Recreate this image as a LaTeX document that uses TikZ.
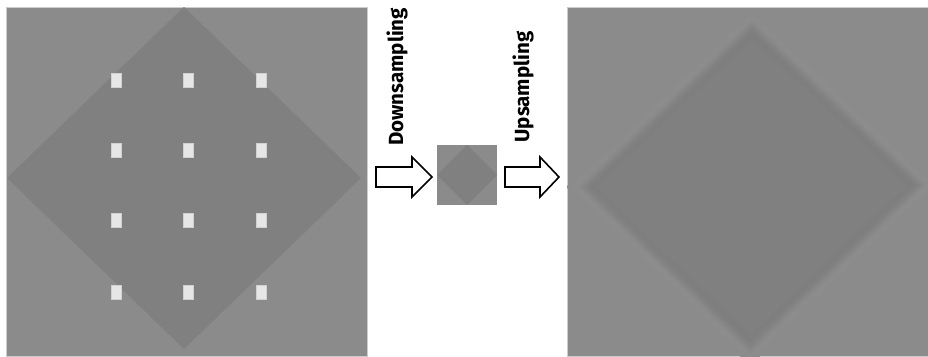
\documentclass[tikz,border=0pt]{standalone}
\usepackage{fontspec}
\setmainfont{Fira Sans}
\begin{document}
\begin{tikzpicture}[x=1pt,y=-1pt,
  bgA/.style={fill=bgcol},
  dia/.style={fill=diacol},
  dot/.style={fill=dotcol,draw=dotcol!80!gray,line width=0.4pt},
  blockarrow/.style={draw=black,fill=white,line width=1.6pt,line join=miter},
  lbl/.style={rotate=90,font=\fontsize{20.5}{24}\selectfont\bfseries,inner sep=0pt}]
\definecolor{bgcol}{HTML}{8B8B8B}
\definecolor{diacol}{HTML}{808080}
\definecolor{dotcol}{HTML}{E6E6E6}
\useasboundingbox (0,0) rectangle (928,356);
\fill[white] (0,0) rectangle (928,356);
% left image
\draw[bgA,draw=gray!40,line width=0.6pt] (6,7) rectangle (367,356);
\fill[dia] (184,7) -- (361,178) -- (184,349) -- (7,178) -- cycle;
\foreach \x in {116,188,261}{
  \foreach \y in {80,150,220,292}{
    \draw[dot] (\x-5,\y-7) rectangle (\x+5,\y+7);
  }
}
% small image
\fill[bgA] (437,145) rectangle (497,205);
\fill[dia] (467,145) -- (497,175) -- (467,205) -- (437,175) -- cycle;
% right image (blurred)
\draw[bgA,draw=gray!40,line width=0.6pt] (567,7) rectangle (928,356);
\begin{scope}
\clip (567,7) rectangle (928,356);
\foreach \k/\c in {14/8B8B8B,10/8C8C8C,6/8D8D8D,3/8B8B8B,0/888888,-3/848484,-6/818181,-10/7E7E7E,-14/7F7F7F,-18/808080}{
  \definecolor{tmp}{HTML}{\c}
  \fill[tmp] (752,22-\k) -- (924+\k,185) -- (750,352+\k) -- (580-\k,187) -- cycle;
}
\end{scope}
% arrows
\draw[blockarrow] (376,167) -- (412,167) -- (412,157) -- (432,177) -- (412,197) -- (412,187) -- (376,187) -- cycle;
\draw[blockarrow] (505,167) -- (540,167) -- (540,157) -- (559,177) -- (540,197) -- (540,187) -- (505,187) -- cycle;
% labels
\node[lbl] (down) at (397,77) {Downsampling};
\node[lbl] (up) at (523,87) {Upsampling};
\end{tikzpicture}
\end{document}
